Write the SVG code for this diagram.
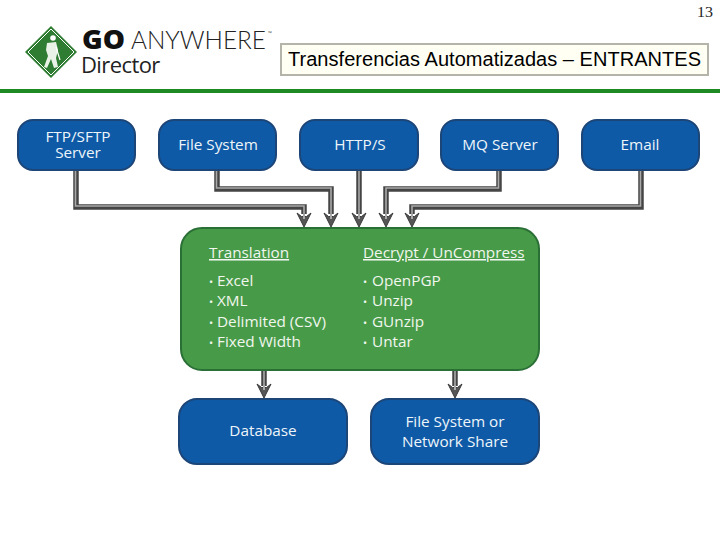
<svg xmlns="http://www.w3.org/2000/svg" width="720" height="540" viewBox="0 0 720 540">
<style>
.blue{fill:#0f5aa6;stroke:#1c4578;stroke-width:2}
.green{fill:#479b48;stroke:#2a6f35;stroke-width:2}
text{font-family:"Open Sans","Noto Sans",sans-serif}
.n{fill:#eef5fa;font-size:15.3px;text-anchor:middle}
.g{fill:#f1f6ee;font-size:15.3px}
.b{font-size:11px}
.u{fill:#f1f6ee;font-size:15.3px;text-decoration:underline}
.so{fill:none;stroke:#454545;stroke-width:5.5}
.si{fill:none;stroke:#a9a9a9;stroke-width:1.6}
.ah{fill:#565656;stroke:#3a3a3a;stroke-width:1}
</style>
<defs>
<g id="hd"><path class="ah" d="M-7 0 L-2.5 3.5 L2.5 3.5 L7 0 L0 14 Z"/><path d="M-1 1 h2 v5 h-2z" fill="#a9a9a9"/></g>
</defs>
<text x="705" y="17" font-size="14" text-anchor="middle" style="font-family:'Liberation Serif',serif" fill="#222" textLength="16" lengthAdjust="spacingAndGlyphs">13</text>
<g id="logo">
<path d="M51 26 L77 52 L51 78 L25 52 Z" fill="#2f7d32"/>
<path d="M51 29 L74 52 L51 75 L28 52 Z" fill="none" stroke="#fff" stroke-width="1"/>
<circle cx="53" cy="38" r="2.8" fill="#fff"/>
<path d="M47 43 L56 42 L58 50 L56 58 L58 67 L54 68 L51 59 L47 68 L44 67 L48 56 L46 50 Z" fill="#e9f2e6"/>
<path d="M56 47 L60 60" stroke="#fff" stroke-width="1.2"/>
<text x="82" y="49" font-size="27" font-weight="800" fill="#111" textLength="43" lengthAdjust="spacingAndGlyphs">GO</text>
<text x="131" y="49" font-size="25" font-weight="300" fill="#222" style="font-family:'Lato',sans-serif" textLength="135" lengthAdjust="spacingAndGlyphs">ANYWHERE</text>
<text x="268" y="35" font-size="5" fill="#444">™</text>
<text x="81" y="73" font-size="22" fill="#222" letter-spacing="-.6">Director</text>
</g>
<g id="title">
<rect x="281" y="44" width="427" height="31" fill="#fffff4" stroke="#b4b4aa" stroke-width="2"/>
<text x="288" y="66" font-size="20" fill="#000" style="font-family:'Liberation Sans',sans-serif" textLength="413" lengthAdjust="spacing">Transferencias Automatizadas – ENTRANTES</text>
</g>
<rect id="rule" x="0" y="89" width="720" height="4" fill="#1e8a24"/>
<g id="connectors">
<path class="so" d="M76 170 V207 H304 V214"/><path class="si" d="M75.5 170 V206 H304 V214"/>
<path class="so" d="M217 170 V189 H331 V214"/><path class="si" d="M216.5 170 V188 H331 V214"/>
<path class="so" d="M359 170 V214"/><path class="si" d="M359 170 V214"/>
<path class="so" d="M499 170 V189 H386 V214"/><path class="si" d="M498.5 170 V188 H386 V214"/>
<path class="so" d="M641 170 V207 H412 V214"/><path class="si" d="M640.5 170 V206 H412 V214"/>
<path class="so" d="M264 370 V386"/><path class="si" d="M264 370 V386"/>
<path class="so" d="M455 370 V386"/><path class="si" d="M455 370 V386"/>
<use href="#hd" x="304" y="213"/><use href="#hd" x="331" y="213"/><use href="#hd" x="359" y="213"/><use href="#hd" x="386" y="213"/><use href="#hd" x="412" y="213"/>
<use href="#hd" x="264" y="384"/><use href="#hd" x="455" y="384"/>
</g>
<g id="n-ftp"><rect class="blue" x="18" y="120" width="117" height="50" rx="15"/><text class="n" x="78" y="142">FTP/SFTP</text><text class="n" x="78" y="158">Server</text></g>
<g id="n-fs"><rect class="blue" x="159" y="120" width="117" height="50" rx="15"/><text class="n" x="218" y="150">File System</text></g>
<g id="n-http"><rect class="blue" x="300" y="120" width="118" height="50" rx="15"/><text class="n" x="360" y="150">HTTP/S</text></g>
<g id="n-mq"><rect class="blue" x="441" y="120" width="117" height="50" rx="15"/><text class="n" x="500" y="150">MQ Server</text></g>
<g id="n-email"><rect class="blue" x="582" y="120" width="117" height="50" rx="15"/><text class="n" x="640" y="150">Email</text></g>
<g id="n-proc">
<rect class="green" x="181" y="228" width="358" height="142" rx="21"/>
<text class="u" x="209" y="258">Translation</text>
<text class="g" x="209" y="286"><tspan class="b">•</tspan><tspan x="217">Excel</tspan></text>
<text class="g" x="209" y="306"><tspan class="b">•</tspan><tspan x="217">XML</tspan></text>
<text class="g" x="209" y="327"><tspan class="b">•</tspan><tspan x="217">Delimited (CSV)</tspan></text>
<text class="g" x="209" y="347"><tspan class="b">•</tspan><tspan x="217">Fixed Width</tspan></text>
<text class="u" x="363" y="258">Decrypt / UnCompress</text>
<text class="g" x="363" y="286"><tspan class="b">•</tspan><tspan x="372">OpenPGP</tspan></text>
<text class="g" x="363" y="306"><tspan class="b">•</tspan><tspan x="372">Unzip</tspan></text>
<text class="g" x="363" y="327"><tspan class="b">•</tspan><tspan x="372">GUnzip</tspan></text>
<text class="g" x="363" y="347"><tspan class="b">•</tspan><tspan x="372">Untar</tspan></text>
</g>
<g id="n-db"><rect class="blue" x="179" y="399" width="168" height="65" rx="18"/><text class="n" x="263" y="436">Database</text></g>
<g id="n-share"><rect class="blue" x="371" y="399" width="168" height="65" rx="18"/><text class="n" x="455" y="427">File System or</text><text class="n" x="455" y="447">Network Share</text></g>
</svg>
